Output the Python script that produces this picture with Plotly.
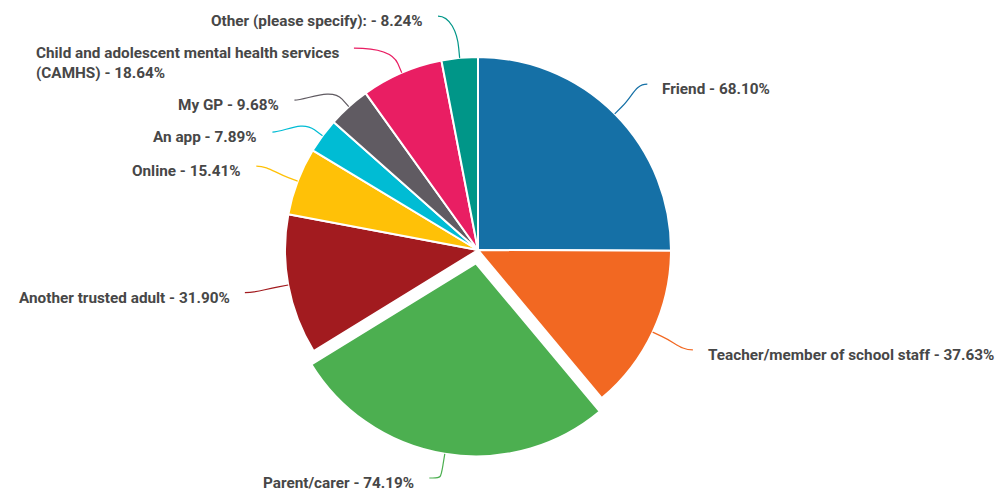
import math
import textwrap
import plotly.graph_objects as go

labels = ['Friend', 'Teacher/member of school staff', 'Parent/carer', 'Another trusted adult',
          'Online', 'An app', 'My GP', 'Child and adolescent mental health services (CAMHS)',
          'Other (please specify):']
values = [68.10, 37.63, 74.19, 31.90, 15.41, 7.89, 9.68, 18.64, 8.24]
colors = ['#1570a6', '#f26822', '#4caf50', '#a21b1f', '#ffc107', '#00bcd4', '#605b62', '#e91e63', '#009688']
pulled = 'Parent/carer'

W, H = 1007, 493
OFF = 8  # page body margin
cx, cy, r = 478, 250, 193
pull = 0.07
font_color = '#474747'


def px(x):
    return (x - OFF) / W


def py(y):
    return 1 - (y - OFF) / H


# slice geometry (clockwise from 12 o'clock)
total = sum(values)
slices = []
start = 0
for name, v, c in zip(labels, values, colors):
    a = v / total * 360
    mid = math.radians(start + a / 2)
    start += a
    p = pull if name == pulled else 0
    ox = cx + p * r * math.sin(mid)
    oy = cy - p * r * math.cos(mid)
    txt = textwrap.wrap(f'{name} - {v:.2f}%', 44)
    slices.append(dict(name=name, color=c, mid=mid, ox=ox, oy=oy, lines=txt,
                       ideal=cy - (r + 42) * math.cos(mid),
                       left=math.sin(mid) < 0))

# spread labels vertically on each side so they don't overlap
for left in (True, False):
    side = sorted([s for s in slices if s['left'] == left], key=lambda s: s['ideal'])
    bottom = -1e9
    for s in side:
        top = max(s['ideal'] - 16, bottom)
        s['ly'] = top + 16
        bottom = top + 12 + 20 * len(s['lines'])

shapes = []
annotations = []
R2 = r + 44
for s in slices:
    dy = s['ly'] - cy
    dx = math.sqrt(max(R2 ** 2 - dy ** 2, 0))
    sgn = -1 if s['left'] else 1
    # keep the bottom label inside the page
    lx, ly = cx + sgn * max(dx, 40), min(s['ly'], H - 15)
    sx, sy = math.sin(s['mid']), -math.cos(s['mid'])
    ex, ey = s['ox'] + r * sx, s['oy'] + r * sy
    bx, by = s['ox'] + (r + 10) * sx, s['oy'] + (r + 10) * sy
    b2x, b2y = s['ox'] + (r + 26) * sx, s['oy'] + (r + 26) * sy
    c1x = lx - sgn * 12
    path = (f'M {px(lx)},{py(ly)} C {px(c1x)},{py(ly)} {px(b2x)},{py(b2y)} {px(bx)},{py(by)} '
            f'L {px(ex)},{py(ey)}')
    shapes.append(dict(type='path', xref='paper', yref='paper', path=path,
                       line=dict(color=s['color'], width=1.2)))
    n = len(s['lines'])
    annotations.append(dict(
        x=px(lx + sgn * 13), y=py(ly + 5 + 10 * (n - 1)),
        xref='paper', yref='paper',
        xanchor='right' if s['left'] else 'left', yanchor='middle',
        align='left', showarrow=False,
        text='<br>'.join(s['lines']),
        font=dict(family='Roboto', size=15.3, color=font_color, weight='bold'),
    ))

half = r * (1 + pull)
fig = go.Figure()
fig.add_trace(
    go.Pie(
        labels=labels,
        values=values,
        sort=False,
        direction='clockwise',
        rotation=0,
        pull=[pull if l == pulled else 0 for l in labels],
        marker=dict(colors=colors, line=dict(color='white', width=2)),
        textinfo='none',
        hovertemplate='%{label}: %{value:.2f}%<extra></extra>',
        domain=dict(x=[px(cx - half), px(cx + half)], y=[py(cy + half), py(cy - half)]),
    )
)

fig.update_layout(
    width=W,
    height=H,
    margin=dict(l=0, r=0, t=0, b=0),
    paper_bgcolor='white',
    plot_bgcolor='white',
    showlegend=False,
    shapes=shapes,
    annotations=annotations,
)

fig.write_html('out.html')
